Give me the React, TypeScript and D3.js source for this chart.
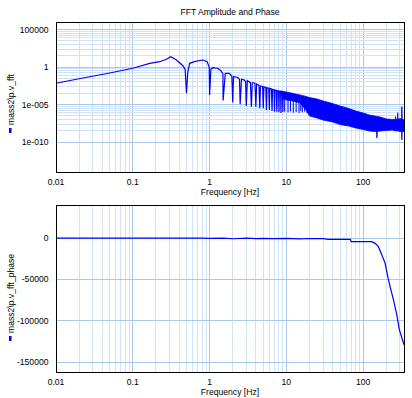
import React from "react";
import * as d3 from "d3";

// axis ticks
const freqTicks = [0.01, 0.1, 1, 10, 100];
const freqTickLabels = ["0.01", "0.1", "1", "10", "100"];
const ampTicks = [1e-10, 1e-5, 1, 1e5];
const ampTickLabels = ["1e-010", "1e-005", "1", "100000"];
const phaseTicks = [-150000, -100000, -50000, 0];
const phaseTickLabels = ["-150000", "-100000", "-50000", "0"];

// amplitude trace up to ~9 Hz (lobes + notches)
const ampFreq = [
  0.01, 0.02, 0.05, 0.1, 0.166, 0.224, 0.274, 0.312, 0.37, 0.45, 0.48, 0.5, 0.52,
  0.55, 0.65, 0.82, 0.93, 0.99, 1.0, 1.04, 1.1, 1.27, 1.4, 1.49, 1.5, 1.6, 1.8, 1.95,
  2.0, 2.05, 2.3, 2.45, 2.5, 2.6, 2.8, 2.95, 3.0, 3.1, 3.4, 3.5, 3.6, 3.9, 4.0, 4.1,
  4.4, 4.5, 4.6, 4.9, 5.0, 5.1, 5.4, 5.5, 5.6, 5.9, 6.0, 6.1, 6.4, 6.5, 6.6, 6.9,
  7.0, 7.1, 7.4, 7.5, 7.6, 7.9, 8.0, 8.1, 8.4, 8.5, 8.6, 8.9, 9.0, 9.1,
];
const ampValue = [
  6.8e-3, 2.7e-2, 0.16, 0.68, 3.1, 5.1, 10.7, 23, 8.5, 1.5, 0.49, 3.1e-4, 0.21,
  3.1, 5.6, 8.5, 5.1, 0.91, 1.9e-4, 0.54, 0.81, 0.68, 0.32, 0.13, 3.5e-5, 0.14, 0.14, 0.063,
  1.9e-5, 0.051, 0.043, 0.023, 1.1e-5, 0.023, 0.019, 0.011, 6.3e-6, 0.015, 8.1e-3, 5.1e-6, 8.1e-3, 6.8e-3, 5.1e-6, 5.4e-3,
  3.5e-3, 3.1e-6, 3.0e-3, 2.5e-3, 3.1e-6, 2.3e-3, 1.9e-3, 1.9e-6, 1.7e-3, 1.5e-3, 1.9e-6, 1.4e-3, 1.2e-3, 1.35e-6, 1.07e-3, 9.5e-4,
  1.1e-6, 8.5e-4, 7.6e-4, 1.1e-6, 6.9e-4, 6.6e-4, 9.1e-7, 6.3e-4, 6.0e-4, 7.4e-7, 5.8e-4, 5.5e-4, 1e-6, 5.4e-4,
];

// dense part above 9 Hz: top and bottom edge of the band
const bandFreq = [
  9, 10, 12, 15, 18, 20, 25, 30, 40, 50, 65, 80, 100, 120, 140, 149, 151, 153, 170,
  200, 240, 262, 264, 266, 280, 282, 284, 300, 316, 319, 322, 340,
];
const bandHigh = [
  5.4e-4, 4.7e-4, 3.1e-4, 1.9e-4, 1.2e-4, 8.5e-5, 5.4e-5, 3.0e-5, 1.35e-5, 6.3e-6, 3.0e-6, 1.35e-6, 7.4e-7, 4.0e-7, 3.0e-7, 2.7e-7, 2.6e-7, 2.6e-7, 2.0e-7,
  1.2e-7, 1.0e-7, 1.1e-7, 2.5e-7, 1.1e-7, 1.1e-7, 8.1e-7, 1.1e-7, 1.3e-7, 1.3e-7, 5.1e-6, 1.0e-7, 1.0e-7,
];
const bandLow = [
  5.4e-5, 4.0e-5, 3.0e-5, 1.6e-5, 1.9e-6, 3.0e-7, 1.6e-7, 8.5e-8, 4.7e-8, 2.1e-8, 1.35e-8, 7.4e-9, 4.7e-9, 3.0e-9, 2.5e-9, 2.5e-9, 3.4e-10, 2.5e-9, 3.0e-9,
  3.4e-9, 4.0e-9, 3.0e-9, 3.0e-9, 3.0e-9, 3.0e-9, 3.0e-9, 3.0e-9, 2.5e-9, 2.5e-9, 1.9e-10, 2.5e-9, 2.5e-9,
];

// single deep notches sticking out below the band
const spikeFreq = [9.5, 10.5, 11.3, 12.3, 13.4, 14.6, 15.4, 16.1, 17.3, 18.6];
const spikeLow = [1.1e-6, 9e-7, 1.2e-6, 8e-7, 1.0e-6, 7e-7, 1.3e-6, 9e-7, 1.1e-6, 7e-7];

// phase trace
const phaseFreq = [
  0.01, 0.8, 1, 1.5, 2, 3, 4, 5, 7, 10, 15, 20, 30, 35, 68, 70, 130, 143, 158,
  175, 193, 209, 224, 248, 274, 296, 340,
];
const phaseValue = [
  0, 0, -300, 0, -800, 0, -600, -300, -700, -400, -900, -500, -600, -1600, -1600, -4400, -4400, -6400, -10400,
  -20500, -30500, -46600, -58700, -74700, -92800, -110900, -129000,
];

const W = 412, H = 398;
const left = 56, right = 404;
const top1 = 22, bottom1 = 172;
const top2 = 205, bottom2 = 372;
const font = "'Liberation Sans', Arial, sans-serif";
const fs = 8.6;
const majorGrid = "#a9c9ea";
const minorGrid = "#d0e2f5";
const blue = "#0000ff";

const x = d3.scaleLog().domain([0.01, 340]).range([left, right]);
const yAmp = d3.scaleLog().domain([1e-14, 1e6]).range([bottom1, top1]);
const yPh = d3.scaleLinear().domain([-162000, 40000]).range([bottom2, top2]);

const minorFreq: number[] = [];
freqTicks.forEach(d => {
  for (let k = 2; k <= 9; k++) if (d * k <= 340) minorFreq.push(d * k);
});

// dymola style minor grid: log spacing inside each 5-decade step
const minorAmp: number[] = [];
for (let i = 0; i < ampTicks.length - 1; i++) {
  const a = Math.log10(ampTicks[i]);
  const b = Math.log10(ampTicks[i + 1]);
  for (let k = 2; k <= 9; k++) minorAmp.push(Math.pow(10, a + (b - a) * Math.log10(k)));
}

function VGrid({ top, bottom }: { top: number; bottom: number }) {
  return (
    <g shapeRendering="crispEdges">
      {minorFreq.map((f, i) => (
        <line key={"m" + i} x1={x(f)} x2={x(f)} y1={top} y2={bottom} stroke={minorGrid} />
      ))}
      {freqTicks.map((f, i) => (
        <line key={"M" + i} x1={x(f)} x2={x(f)} y1={top} y2={bottom} stroke={majorGrid} />
      ))}
    </g>
  );
}

function XLabels({ bottom }: { bottom: number }) {
  return (
    <g fontFamily={font} fontSize={fs} fill="#000">
      {freqTicks.map((f, i) => (
        <text key={i} x={x(f)} y={bottom + 13} textAnchor="middle">{freqTickLabels[i]}</text>
      ))}
      <text x={(left + right) / 2} y={bottom + 23} textAnchor="middle">Frequency [Hz]</text>
    </g>
  );
}

export default function App() {
  const ampLine = d3.line<number>()
    .x((d, i) => x(ampFreq[i]))
    .y(d => yAmp(d));
  const band = d3.area<number>()
    .x((d, i) => x(bandFreq[i]))
    .y0((d, i) => yAmp(bandLow[i]))
    .y1(d => yAmp(d));
  const bandLowAt = d3.scaleLog().domain(bandFreq).range(bandLow);
  const phLine = d3.line<number>()
    .x((d, i) => x(phaseFreq[i]))
    .y(d => yPh(d));

  return (
    <svg width={W} height={H} style={{ position: "absolute", left: 0, top: 0, background: "#fff" }}>
      <defs>
        <clipPath id="c1"><rect x={left} y={top1} width={right - left} height={bottom1 - top1} /></clipPath>
        <clipPath id="c2"><rect x={left} y={top2} width={right - left} height={bottom2 - top2} /></clipPath>
      </defs>

      <text x={(left + right) / 2} y={15} textAnchor="middle" fontFamily={font} fontSize={fs}>
        FFT Amplitude and Phase
      </text>

      {/* amplitude panel */}
      <VGrid top={top1} bottom={bottom1} />
      <g shapeRendering="crispEdges">
        {minorAmp.map((v, i) => (
          <line key={i} x1={left} x2={right} y1={yAmp(v)} y2={yAmp(v)} stroke={minorGrid} />
        ))}
        {ampTicks.map((v, i) => (
          <line key={"M" + i} x1={left} x2={right} y1={yAmp(v)} y2={yAmp(v)} stroke={majorGrid} />
        ))}
      </g>
      <g clipPath="url(#c1)">
        <path d={ampLine(ampValue) || ""} fill="none" stroke={blue} strokeWidth={1.2} />
        <path d={band(bandHigh) || ""} fill={blue} stroke={blue} strokeWidth={0.8} />
        {spikeFreq.map((f, i) => (
          <line key={i} x1={x(f)} x2={x(f)} y1={yAmp(bandLowAt(f))} y2={yAmp(spikeLow[i])}
            stroke={blue} strokeWidth={1} />
        ))}
      </g>
      <rect x={left} y={top1} width={right - left} height={bottom1 - top1} fill="none" stroke="#000" shapeRendering="crispEdges" />
      <g fontFamily={font} fontSize={fs}>
        {ampTicks.map((v, i) => (
          <text key={i} x={48.5} y={yAmp(v) + 3} textAnchor="end">{ampTickLabels[i]}</text>
        ))}
      </g>
      <XLabels bottom={bottom1} />
      <rect x={9} y={128} width={2.5} height={5} fill={blue} />
      <text transform="translate(13.5,125) rotate(-90)" fontFamily={font} fontSize={fs}>mass2\p.v_fft</text>

      {/* phase panel */}
      <VGrid top={top2} bottom={bottom2} />
      <g shapeRendering="crispEdges">
        {phaseTicks.map((v, i) => (
          <line key={i} x1={left} x2={right} y1={yPh(v)} y2={yPh(v)} stroke={majorGrid} />
        ))}
      </g>
      <g clipPath="url(#c2)">
        <path d={phLine(phaseValue) || ""} fill="none" stroke={blue} strokeWidth={1.2} />
      </g>
      <rect x={left} y={top2} width={right - left} height={bottom2 - top2} fill="none" stroke="#000" shapeRendering="crispEdges" />
      <g fontFamily={font} fontSize={fs}>
        {phaseTicks.map((v, i) => (
          <text key={i} x={48.5} y={yPh(v) + 3} textAnchor="end">{phaseTickLabels[i]}</text>
        ))}
      </g>
      <XLabels bottom={bottom2} />
      <rect x={9} y={336} width={2.5} height={5} fill={blue} />
      <text transform="translate(13.5,333) rotate(-90)" fontFamily={font} fontSize={fs}>mass2\p.v_fft_phase</text>
    </svg>
  );
}
